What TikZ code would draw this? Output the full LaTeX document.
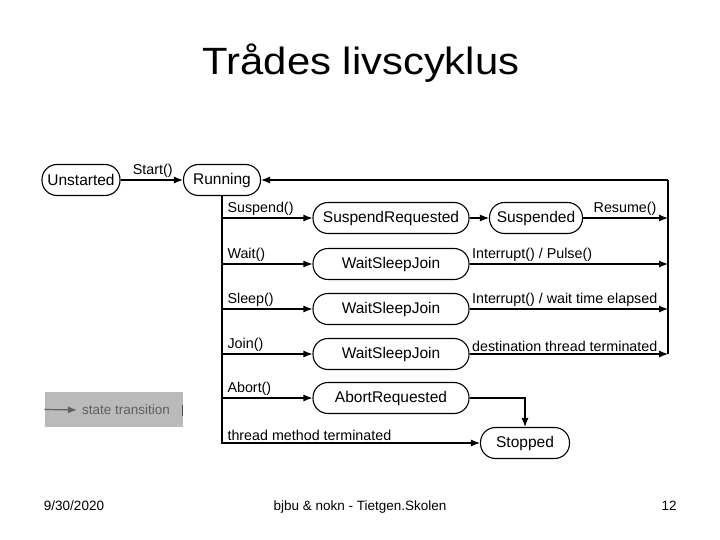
\documentclass[tikz,border=0pt]{standalone}
\usepackage{fontspec}
\setmainfont{Liberation Sans}
\usetikzlibrary{arrows.meta}

\begin{document}
\begin{tikzpicture}[x=1pt,y=-1pt,
		state/.style={draw, rounded corners=15pt, line width=1.1pt, inner sep=2pt, minimum height=31pt, font=\fontsize{15.5}{17}\selectfont},
		trans/.style={line width=1.1pt, -{Latex[length=9pt,width=7pt]}},
		lbl/.style={font=\fontsize{14.3}{16}\selectfont, inner sep=2pt},
		foot/.style={font=\fontsize{13.5}{15}\selectfont, anchor=base}]
		\useasboundingbox (0,0) rectangle (720,540);
		
		% title and footer
		\node (title) at (361,63) {\scalebox{1.1}[1]{\fontsize{38}{44}\selectfont Trådes livscyklus}};
		\node[foot] (date) at (74,510) {9/30/2020};
		\node[foot] (school) at (360,510) {bjbu \& nokn - Tietgen.Skolen};
		\node[foot] (page) at (669,510) {12};
		
		% states
		\node[state, minimum width=78pt] (unstarted) at (81,180) {Unstarted};
		\node[state, minimum width=77pt] (running) at (222,180) {Running};
		\node[state, minimum width=156pt] (susreq) at (391,218) {SuspendRequested};
		\node[state, minimum width=93pt] (suspended) at (536,218) {Suspended};
		\node[state, minimum width=156pt] (wsjwait) at (391,264) {WaitSleepJoin};
		\node[state, minimum width=156pt] (wsjsleep) at (391,309) {WaitSleepJoin};
		\node[state, minimum width=156pt] (wsjjoin) at (391,354) {WaitSleepJoin};
		\node[state, minimum width=156pt] (abortreq) at (391,398) {AbortRequested};
		\node[state, minimum width=89pt] (stopped) at (525,443) {Stopped};
		\coordinate (ret) at (668,180);
		
		% transitions
		\draw[trans] (unstarted) -- node[lbl, above, xshift=1pt] {Start()} (running);
		\foreach \st/\txt in {susreq/Suspend(), wsjwait/Wait(), wsjsleep/Sleep(), wsjjoin/Join(), abortreq/Abort()}
		\draw[trans] (running |- \st) -- node[lbl, pos=0, anchor=south west, xshift=3pt] {\txt} (\st);
		\draw[trans] (running) -- (running |- stopped) -- node[lbl, pos=0, anchor=south west, xshift=3pt] {thread method terminated} (stopped);
		\draw[trans] (susreq) -- (suspended);
		\draw[trans] (suspended) -- node[lbl, pos=1, anchor=south east, xshift=-9pt] {Resume()} (suspended -| ret);
		\draw[trans] (wsjwait) -- node[lbl, pos=0, anchor=south west] {Interrupt() / Pulse()} (wsjwait -| ret);
		\draw[trans] (wsjsleep) -- node[lbl, pos=0, anchor=south west] {Interrupt() / wait time elapsed} (wsjsleep -| ret);
		\draw[trans] (wsjjoin) -- node[lbl, pos=0, anchor=south west] {destination thread terminated} (wsjjoin -| ret);
		\draw[line width=1.1pt] (wsjjoin -| ret) -- (ret);
		\draw[trans] (ret) -- (running);
		\draw[trans] (abortreq) -| (stopped);
		
		% legend
		\node[fill=black!27, minimum width=138pt, minimum height=35pt, inner sep=0pt] (legend) at (113.5,409.5) {};
		\node[lbl, font=\fontsize{13.5}{15}\selectfont, text=black!62, anchor=west] (legtext) at (80,410) {state transition};
		\draw[line width=1.2pt, black!62, -{Latex[length=9pt,width=7pt]}, shorten >=3pt] (legend.west) -- (legtext.west);
		\draw[line width=1.2pt, black!70] ([yshift=-6pt]legend.east) -- ([yshift=5pt]legend.east);
		
\end{tikzpicture}
\end{document}
